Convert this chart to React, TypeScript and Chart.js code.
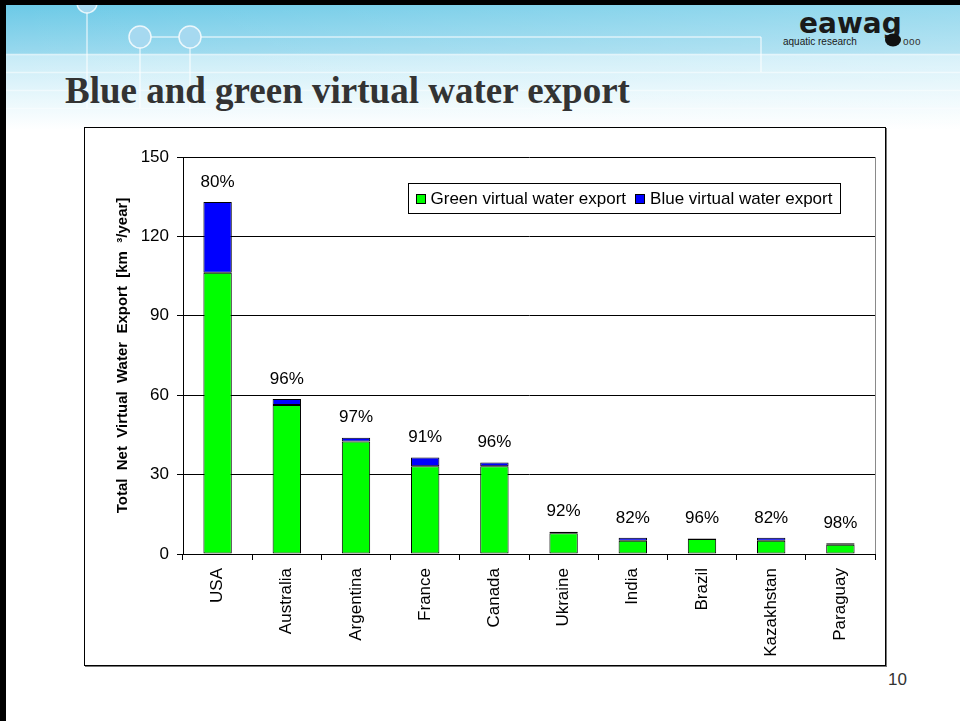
import React, { useEffect, useRef } from "react";
import { Chart, registerables } from "chart.js";

Chart.register(...registerables);

// ---- data ----
const categories = ["USA", "Australia", "Argentina", "France", "Canada", "Ukraine", "India", "Brazil", "Kazakhstan", "Paraguay"];
const greenExport = [106.3, 56.3, 42.5, 33.2, 33.2, 7.8, 5.0, 5.7, 5.0, 3.5];
const blueExport = [26.7, 2.3, 1.4, 3.3, 1.4, 0.6, 1.1, 0.2, 1.1, 0.6];
const greenShare = [80, 96, 97, 91, 96, 92, 82, 96, 82, 98];
const yTickValues = [0, 30, 60, 90, 120, 150];
const seriesLabels = ["Green virtual water export", "Blue virtual water export"];
const seriesColors = ["#00ff00", "#0000ff"];

const SANS = '"Liberation Sans", Arial, sans-serif';

const overlayPlugin = {
  id: "overlay",
  afterDatasetsDraw(chart: any) {
    const { ctx, chartArea } = chart;
    ctx.save();
    // plot-area right border
    ctx.strokeStyle = "#8a8a8a";
    ctx.lineWidth = 1;
    ctx.beginPath();
    ctx.moveTo(Math.round(chartArea.right) + 0.5, chartArea.top);
    ctx.lineTo(Math.round(chartArea.right) + 0.5, chartArea.bottom);
    ctx.stroke();

    // share labels above stacked bars
    const topMeta = chart.getDatasetMeta(1);
    ctx.font = `17px ${SANS}`;
    ctx.fillStyle = "#000";
    ctx.textAlign = "center";
    ctx.textBaseline = "middle";
    topMeta.data.forEach((bar: any, i: number) => {
      ctx.fillText(`${greenShare[i]}%`, bar.x, bar.y - 20);
    });

    // legend box
    const bx = Math.round(chartArea.left + 225) + 0.5;
    const by = Math.round(chartArea.top + 26) + 0.5;
    const bh = 30;
    ctx.font = `17px ${SANS}`;
    ctx.textAlign = "left";
    let x = bx + 7;
    const items: { sx: number; tx: number }[] = [];
    seriesLabels.forEach((lab) => {
      const sx = x;
      const tx = sx + 15;
      items.push({ sx, tx });
      x = tx + ctx.measureText(lab).width + 9;
    });
    const bw = Math.round(x - 9 + 8 - bx);
    ctx.fillStyle = "#fff";
    ctx.fillRect(bx, by, bw, bh);
    ctx.strokeStyle = "#000";
    ctx.lineWidth = 1;
    ctx.strokeRect(bx, by, bw, bh);
    seriesLabels.forEach((lab, i) => {
      const { sx, tx } = items[i];
      const sy = Math.round(by + bh / 2 - 5);
      ctx.fillStyle = seriesColors[i];
      ctx.fillRect(Math.round(sx), sy, 10, 10);
      ctx.strokeStyle = "#000";
      ctx.strokeRect(Math.round(sx) + 0.5, sy + 0.5, 9, 9);
      ctx.fillStyle = "#000";
      ctx.textBaseline = "middle";
      ctx.fillText(lab, tx, by + bh / 2 + 1);
    });
    ctx.restore();
  },
};

export default function App() {
  const canvasRef = useRef<HTMLCanvasElement>(null);

  useEffect(() => {
    const chart = new Chart(canvasRef.current as HTMLCanvasElement, {
      type: "bar",
      data: {
        labels: categories,
        datasets: [
          {
            label: seriesLabels[0],
            data: greenExport,
            backgroundColor: seriesColors[0],
            borderColor: "#000",
            borderWidth: 1,
            borderSkipped: false,
            barPercentage: 0.41,
            categoryPercentage: 1,
          },
          {
            label: seriesLabels[1],
            data: blueExport,
            backgroundColor: seriesColors[1],
            borderColor: "#000",
            borderWidth: 1,
            borderSkipped: false,
            barPercentage: 0.41,
            categoryPercentage: 1,
          },
        ],
      },
      options: {
        animation: false,
        responsive: false,
        devicePixelRatio: 1,
        layout: { padding: { top: 29, right: 10, bottom: 0, left: 0 } },
        plugins: {
          legend: { display: false },
          tooltip: { enabled: false },
        },
        scales: {
          x: {
            stacked: true,
            offset: true,
            grid: {
              display: true,
              drawOnChartArea: false,
              offset: true,
              tickLength: 6,
              color: "#000",
            },
            border: { color: "#000", width: 1 },
            ticks: {
              minRotation: 90,
              maxRotation: 90,
              padding: 8,
              color: "#000",
              font: { family: SANS, size: 17 },
              autoSkip: false,
            },
            afterFit: (scale: any) => {
              scale.height = 111;
            },
          },
          y: {
            stacked: true,
            min: 0,
            max: 150,
            afterBuildTicks: (scale: any) => {
              scale.ticks = yTickValues.map((v) => ({ value: v }));
            },
            grid: { color: "#000", lineWidth: 1, tickLength: 6 },
            border: { color: "#000", width: 1 },
            ticks: {
              padding: 8,
              color: "#000",
              font: { family: SANS, size: 17 },
            },
            title: {
              display: true,
              text: "Total  Net  Virtual  Water  Export  [km  ³/year]",
              color: "#000",
              font: { family: SANS, size: 15, weight: "bold" },
              padding: { top: 29, bottom: 0 },
            },
            afterFit: (scale: any) => {
              scale.width = 98;
            },
          },
        },
      },
      plugins: [overlayPlugin],
    } as any);
    return () => chart.destroy();
  }, []);

  return (
    <div
      style={{
        position: "fixed",
        left: 0,
        top: 0,
        width: 960,
        height: 721,
        background: "#fff",
        overflow: "hidden",
        fontFamily: SANS,
      }}
    >
      <svg width={960} height={130} style={{ position: "absolute", left: 0, top: 0 }}>
        <defs>
          <linearGradient id="hdrTop" x1="0" y1="0" x2="0" y2="1">
            <stop offset="0" stopColor="#67c8e6" />
            <stop offset="1" stopColor="#9ad9ee" />
          </linearGradient>
          <linearGradient id="hdrBottom" x1="0" y1="0" x2="0" y2="1">
            <stop offset="0" stopColor="#c6ebf7" />
            <stop offset="0.6" stopColor="#eaf8fc" />
            <stop offset="1" stopColor="#ffffff" />
          </linearGradient>
          <linearGradient id="hdrFade" x1="0" y1="0" x2="1" y2="0">
            <stop offset="0" stopColor="#ffffff" stopOpacity="0" />
            <stop offset="1" stopColor="#ffffff" stopOpacity="0.3" />
          </linearGradient>
        </defs>
        <rect x={0} y={0} width={960} height={55} fill="url(#hdrTop)" />
        <rect x={0} y={55} width={960} height={75} fill="url(#hdrBottom)" />
        <rect x={0} y={0} width={960} height={130} fill="url(#hdrFade)" />
        <g stroke="#ffffff" strokeOpacity={0.65} strokeWidth={1.5} fill="none">
          <line x1={0} y1={54.5} x2={960} y2={54.5} />
          <line x1={0} y1={72.5} x2={960} y2={72.5} strokeOpacity={0.5} />
          <line x1={0} y1={90.5} x2={960} y2={90.5} strokeOpacity={0.45} />
          <line x1={0} y1={108.5} x2={960} y2={108.5} strokeOpacity={0.4} />
          <line x1={87} y1={12} x2={87} y2={108} />
          <line x1={140} y1={48} x2={140} y2={108} />
          <line x1={190} y1={48} x2={190} y2={108} />
          <line x1={151} y1={37} x2={179} y2={37} />
          <line x1={201} y1={37} x2={761} y2={37} />
          <line x1={761} y1={37} x2={761} y2={72} />
        </g>
        <g stroke="#ffffff" strokeOpacity={0.8} strokeWidth={1.5} fill="#a6d9f0">
          <circle cx={87} cy={3} r={10} />
          <circle cx={140} cy={37} r={11} />
          <circle cx={190} cy={37} r={11} />
        </g>
        <rect x={0} y={0} width={960} height={5} fill="#000" />
        <text
          x={65}
          y={103}
          fontFamily='"Liberation Serif", "Times New Roman", serif'
          fontWeight="bold"
          fontSize={37}
          fill="#333333"
        >
          Blue and green virtual water export
        </text>
        <text x={799} y={33} fontFamily='"DejaVu Sans", sans-serif' fontWeight="bold" fontSize={28} fill="#1a1a1a">
          eawag
        </text>
        <text x={783} y={45} fontFamily={SANS} fontSize={10} fill="#1a1a1a">
          aquatic research
        </text>
        <ellipse cx={893} cy={40} rx={8} ry={6.5} fill="#111" />
        <text x={903} y={45} fontFamily={SANS} fontSize={10} fill="#333" letterSpacing={0.5}>
          ooo
        </text>
      </svg>
      <div style={{ position: "absolute", left: 0, top: 0, width: 6, height: 721, background: "#000" }} />
      <div
        style={{
          position: "absolute",
          left: 84,
          top: 127,
          width: 802,
          height: 539,
          boxSizing: "border-box",
          border: "1px solid #000",
          boxShadow: "1px 1px 0 #777",
        }}
      />
      <canvas
        ref={canvasRef}
        width={800}
        height={537}
        style={{ position: "absolute", left: 85, top: 128, width: 800, height: 537 }}
      />
      <div style={{ position: "absolute", left: 888, top: 670, fontSize: 17, color: "#333", fontFamily: SANS }}>10</div>
    </div>
  );
}
